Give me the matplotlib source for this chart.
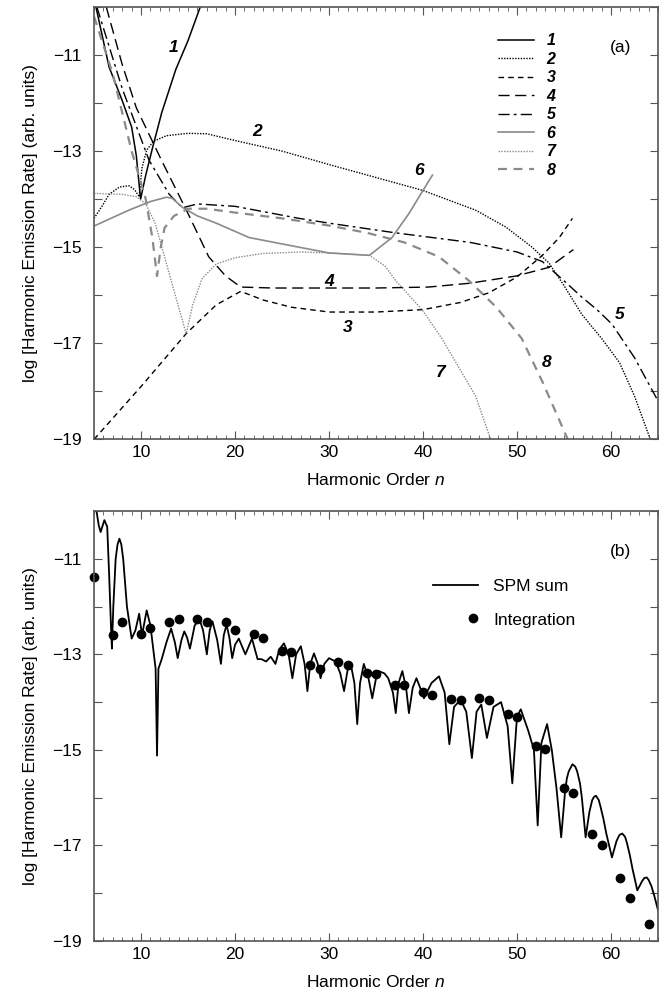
import matplotlib
matplotlib.use("Agg")
import matplotlib.pyplot as plt
from matplotlib.lines import Line2D
from matplotlib.legend_handler import HandlerBase
from matplotlib.ticker import MultipleLocator, FixedLocator

plt.rcParams['font.family'] = ['Liberation Sans', 'DejaVu Sans']
plt.rcParams['mathtext.fontset'] = 'custom'
plt.rcParams['mathtext.rm'] = 'Liberation Sans'
plt.rcParams['mathtext.it'] = 'Liberation Sans:italic'

# panel (a): the eight contributions
n1 = [5.2, 6.6, 8.0, 9.0, 9.5, 9.95, 10.5, 11.2, 12.2, 13.7, 15.0, 16.3]
y1 = [-10.0, -11.25, -11.95, -12.5, -13.1, -14.0, -13.5, -12.95, -12.2, -11.3, -10.7, -10.0]

n2 = [5.0, 6.0, 6.6, 7.7, 8.7, 9.3, 9.8, 10.1, 10.6, 11.3, 12.7, 15.0, 17.0, 20.0, 25.0, 30.0,
      35.0, 40.0, 45.6, 48.8, 51.6, 53.4, 55.0, 56.9, 59.0, 60.9, 62.5, 64.0, 64.6]
y2 = [-14.4, -14.1, -13.9, -13.75, -13.72, -13.8, -13.95, -13.35, -12.98, -12.8, -12.68, -12.63,
      -12.64, -12.78, -13.0, -13.28, -13.55, -13.82, -14.23, -14.58, -15.0, -15.33, -15.8,
      -16.4, -16.9, -17.4, -18.1, -18.9, -19.2]

n3 = [5.0, 10.0, 14.8, 18.0, 20.6, 23.0, 26.0, 30.0, 35.0, 40.0, 44.0, 47.0, 50.0, 52.7, 54.5, 55.9]
y3 = [-19.0, -17.9, -16.8, -16.2, -15.92, -16.1, -16.25, -16.35, -16.35, -16.3, -16.15, -15.95,
      -15.62, -15.17, -14.8, -14.4]

n4 = [6.3, 8.0, 9.5, 12.2, 15.0, 17.2, 19.0, 20.6, 24.0, 30.0, 35.0, 40.6, 45.0, 49.9, 53.4, 56.0]
y4 = [-10.0, -11.2, -12.1, -13.2, -14.3, -15.2, -15.6, -15.83, -15.85, -15.85, -15.85, -15.83,
      -15.75, -15.6, -15.42, -15.05]

n5 = [5.3, 8.0, 10.85, 13.0, 14.4, 16.0, 20.0, 26.8, 30.0, 37.0, 45.0, 50.0, 52.7, 55.0, 56.9,
      58.5, 60.1, 62.5, 65.0]
y5 = [-10.0, -11.7, -13.19, -13.9, -14.18, -14.1, -14.15, -14.4, -14.5, -14.7, -14.9, -15.1,
      -15.3, -15.7, -16.04, -16.3, -16.6, -17.3, -18.2]

n6 = [5.0, 8.7, 11.0, 12.7, 13.3, 14.4, 16.0, 18.0, 21.5, 26.8, 30.0, 34.3, 36.7, 38.5, 39.9, 41.0]
y6 = [-14.56, -14.23, -14.05, -13.96, -13.98, -14.17, -14.35, -14.5, -14.8, -15.0, -15.12, -15.17,
      -14.8, -14.3, -13.85, -13.5]

n7 = [5.0, 8.0, 9.5, 10.5, 11.5, 12.5, 13.5, 14.8, 15.5, 16.5, 18.0, 20.0, 23.0, 27.0, 30.0,
      34.3, 36.0, 37.1, 39.9, 42.0, 43.5, 45.6, 47.2]
y7 = [-13.88, -13.9, -13.95, -14.1, -14.5, -15.2, -15.9, -16.8, -16.2, -15.65, -15.35, -15.22,
      -15.13, -15.1, -15.12, -15.17, -15.4, -15.7, -16.3, -16.9, -17.4, -18.1, -19.0]

n8 = [5.0, 7.0, 9.0, 10.5, 11.2, 11.7, 12.1, 12.5, 13.5, 15.0, 17.0, 20.0, 25.0, 30.0, 34.0,
      38.0, 41.7, 44.9, 47.8, 50.5, 52.7, 55.4]
y8 = [-10.2, -11.4, -13.0, -14.0, -14.8, -15.6, -15.0, -14.6, -14.35, -14.2, -14.2, -14.28,
      -14.4, -14.55, -14.7, -14.9, -15.2, -15.7, -16.25, -16.9, -17.8, -19.0]

curve_names = ['1', '2', '3', '4', '5', '6', '7', '8']

# panel (b): SPM sum and integration
spm_n = [5.1, 5.5, 5.7, 6.1, 6.4, 6.6, 6.8, 6.9, 7.05, 7.3, 7.5, 7.7, 7.9, 8.1, 8.5, 9.0, 9.4,
         9.8, 10.1, 10.6, 11.0, 11.3, 11.55, 11.7, 11.85, 12.2, 12.7, 13.2, 13.6, 13.9, 14.3,
         14.6, 14.9, 15.2, 15.7, 16.2, 16.6, 17.0, 17.3, 17.6, 18.1, 18.5, 18.8, 19.1, 19.4,
         19.7, 20.0, 20.4, 21.1, 21.8, 22.4, 22.8, 23.3, 23.8, 24.3, 24.7, 25.2, 25.7, 26.1,
         26.5, 27.0, 27.4, 27.7, 28.0, 28.4, 28.8, 29.1, 29.5, 30.0, 30.7, 31.2, 31.6, 32.0,
         32.3, 32.7, 33.0, 33.3, 33.7, 34.2, 34.6, 35.0, 35.3, 35.9, 36.3, 36.8, 37.1, 37.4,
         37.8, 38.2, 38.5, 38.9, 39.3, 39.7, 40.1, 40.9, 41.7, 42.3, 42.8, 43.3, 44.0, 44.6,
         45.2, 45.7, 46.2, 46.8, 47.5, 48.3, 49.0, 49.5, 50.0, 50.4, 51.2, 51.8, 52.2, 52.6,
         53.2, 53.7, 54.2, 54.7, 55.1, 55.3, 55.5, 55.9, 56.2, 56.4, 56.7, 56.9, 57.3, 57.7,
         58.0, 58.2, 58.4, 58.7, 58.9, 59.2, 59.5, 60.1, 60.6, 60.9, 61.2, 61.5, 61.7, 62.0,
         62.3, 62.8, 63.3, 63.55, 63.8, 64.0, 64.3, 64.6, 65.0]
spm_y = [-9.8, -10.3, -10.44, -10.19, -10.33, -11.3, -12.4, -12.88, -12.0, -11.0, -10.7, -10.58,
         -10.7, -11.0, -12.0, -12.67, -12.5, -12.15, -12.6, -12.08, -12.4, -12.9, -13.3, -15.12,
         -13.3, -13.1, -12.75, -12.46, -12.75, -13.08, -12.7, -12.52, -12.65, -12.88, -12.4,
         -12.25, -12.5, -13.0, -12.5, -12.31, -12.7, -13.2, -12.6, -12.38, -12.65, -13.08, -12.8,
         -12.67, -13.0, -12.67, -13.1, -13.1, -13.15, -13.05, -13.2, -12.9, -12.77, -13.0, -13.5,
         -13.0, -12.83, -13.2, -13.77, -13.2, -12.98, -13.2, -13.5, -13.2, -13.08, -13.15, -13.4,
         -13.77, -13.3, -13.19, -13.6, -14.46, -13.6, -13.2, -13.5, -13.92, -13.5, -13.35, -13.4,
         -13.5, -13.8, -14.23, -13.6, -13.35, -13.7, -14.23, -13.7, -13.5, -13.7, -13.92, -13.6,
         -13.46, -13.8, -14.88, -14.1, -13.95, -14.2, -15.17, -14.2, -14.05, -14.75, -14.1, -14.0,
         -14.5, -15.7, -14.3, -14.15, -14.6, -15.0, -16.58, -14.85, -14.46, -15.0, -15.8, -16.83,
         -15.9, -15.6, -15.45, -15.3, -15.35, -15.45, -15.7, -16.0, -16.83, -16.3, -16.05,
         -15.98, -15.96, -16.05, -16.2, -16.45, -16.75, -17.25, -16.9, -16.78, -16.75, -16.82,
         -16.95, -17.2, -17.5, -17.94, -17.75, -17.68, -17.67, -17.72, -17.85, -18.05, -18.35]

int_n = [5, 7, 8, 10, 11, 13, 14, 16, 17, 19, 20, 22, 23, 25, 26, 28, 29, 31, 32, 34, 35, 37, 38,
         40, 41, 43, 44, 46, 47, 49, 50, 52, 53, 55, 56, 58, 59, 61, 62, 64]
int_y = [-11.38, -12.6, -12.33, -12.58, -12.44, -12.33, -12.27, -12.25, -12.33, -12.33, -12.48,
         -12.58, -12.65, -12.94, -12.96, -13.23, -13.31, -13.17, -13.23, -13.4, -13.42, -13.65,
         -13.65, -13.79, -13.85, -13.94, -13.96, -13.92, -13.96, -14.25, -14.31, -14.92, -14.98,
         -15.79, -15.9, -16.77, -16.98, -17.69, -18.1, -18.65]

gray = '#8a8a8a'
spine_col = '#555555'


def style_axes(ax):
    ax.set_xlim(5, 65)
    ax.set_ylim(-19, -10)
    ax.xaxis.set_major_locator(MultipleLocator(10))
    ax.xaxis.set_minor_locator(MultipleLocator(1))
    ax.yaxis.set_major_locator(FixedLocator([-19, -17, -15, -13, -11]))
    ax.yaxis.set_minor_locator(FixedLocator([-18, -16, -14, -12, -10]))
    ax.tick_params(which='both', direction='in', top=True, right=True, color=spine_col)
    ax.tick_params(which='major', length=6, width=0.8, labelsize=12.5)
    ax.tick_params(axis='x', which='minor', length=3, width=0.6)
    ax.tick_params(axis='y', which='minor', length=6, width=0.8)
    ax.tick_params(axis='x', pad=4)
    ax.tick_params(axis='y', pad=9)
    for s in ax.spines.values():
        s.set_color(spine_col)
        s.set_linewidth(1.2)
    ax.set_xlabel('Harmonic Order $n$', fontsize=12.5, labelpad=9)
    ax.set_ylabel('log [Harmonic Emission Rate] (arb. units)', fontsize=12.5, labelpad=10)


# legend key with a single dot at the right end of the handle
class RightDot(HandlerBase):
    def create_artists(self, legend, orig_handle, xdescent, ydescent, width, height,
                       fontsize, trans):
        x = -xdescent + width - 0.3 * fontsize
        y = (height - ydescent) / 2
        dot = Line2D([x], [y], ls='none', marker='o', color='black', ms=6)
        dot.set_transform(trans)
        return [dot]


fig = plt.figure(figsize=(6.67, 9.94), dpi=100)

# ---- (a)
ax = fig.add_axes([0.141, 0.558, 0.8455, 0.435])
ax.plot(n1, y1, color='black', lw=1.1, ls='-', label=curve_names[0])
ax.plot(n2, y2, color='black', lw=1.0, ls=(0, (1, 1)), label=curve_names[1])
ax.plot(n3, y3, color='black', lw=1.0, ls=(0, (4, 3)), label=curve_names[2])
ax.plot(n4, y4, color='black', lw=1.0, ls=(0, (8, 4)), label=curve_names[3])
ax.plot(n5, y5, color='black', lw=1.0, ls=(0, (8, 3, 2, 3)), label=curve_names[4])
ax.plot(n6, y6, color=gray, lw=1.2, ls='-', label=curve_names[5])
ax.plot(n7, y7, color=gray, lw=1.0, ls=(0, (1, 1)), label=curve_names[6])
ax.plot(n8, y8, color=gray, lw=1.6, ls=(0, (4, 3)), label=curve_names[7])
style_axes(ax)

lab = dict(fontsize=12.5, fontweight='bold', fontstyle='italic', ha='center', va='center')
ax.text(13.5, -10.85, '1', **lab)
ax.text(22.3, -12.6, '2', **lab)
ax.text(32.0, -16.67, '3', **lab)
ax.text(30.0, -15.72, '4', **lab)
ax.text(60.9, -16.4, '5', **lab)
ax.text(39.6, -13.4, '6', **lab)
ax.text(41.9, -17.6, '7', **lab)
ax.text(53.1, -17.4, '8', **lab)
ax.text(61.0, -10.85, '(a)', fontsize=12.5, ha='center', va='center')

ax.legend(loc='upper left', bbox_to_anchor=(0.703, 0.958), frameon=False,
          handlelength=2.25, handletextpad=0.75, labelspacing=0.22, borderpad=0,
          prop={'size': 11.5, 'weight': 'bold', 'style': 'italic'})

# ---- (b)
bx = fig.add_axes([0.141, 0.0533, 0.8455, 0.4326])
bx.plot(spm_n, spm_y, color='black', lw=1.3)
bx.plot(int_n, int_y, 'o', color='black', ms=6, clip_on=False)
style_axes(bx)
bx.text(61.0, -10.85, '(b)', fontsize=12.5, ha='center', va='center')

spm_key = Line2D([], [], color='black', lw=1.3)
int_key = Line2D([], [], color='black', ls='none', marker='o', ms=6)
bx.legend([spm_key, int_key], ['SPM sum', 'Integration'],
          handler_map={int_key: RightDot()},
          loc='upper left', bbox_to_anchor=(0.585, 0.862), frameon=False,
          handlelength=2.6, handletextpad=0.9, labelspacing=1.05, borderpad=0,
          prop={'size': 12.5})

fig.savefig('out.png', dpi=100)
